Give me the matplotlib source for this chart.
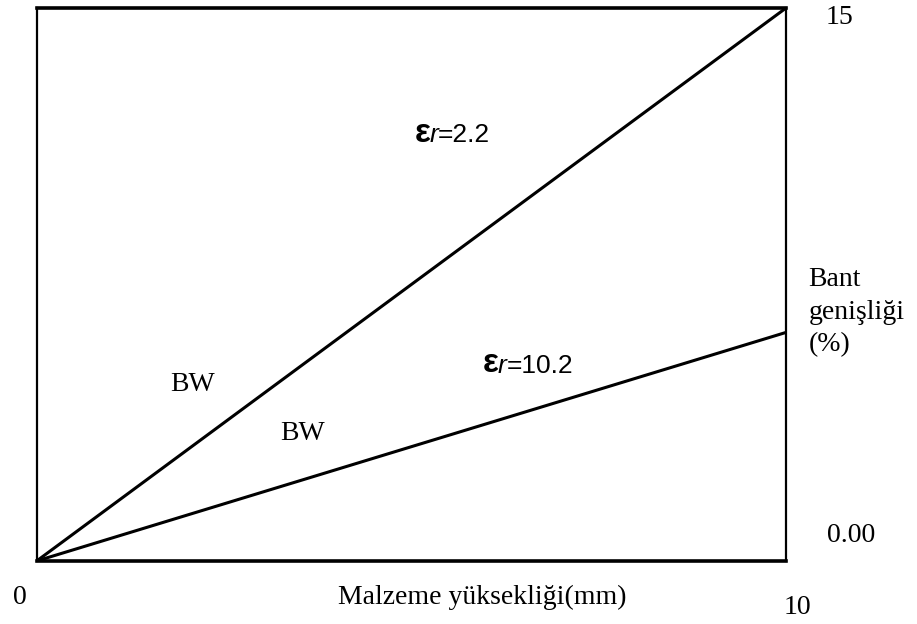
import matplotlib.pyplot as plt

# data
x = [0, 10]
bw_er22 = [0, 15]
bw_er102 = [0, 6.2]

x_labels = ["0", "10"]
y_labels = ["0.00", "15"]

serif = "Liberation Serif"
sans = "Liberation Sans"
fs = 20

fig = plt.figure(figsize=(9.17, 6.24), dpi=100)
ax = fig.add_axes([0.040, 0.101, 0.817, 0.886])

ax.plot(x, bw_er22, color="black", lw=2.2)
ax.plot(x, bw_er102, color="black", lw=2.2)

ax.set_xlim(0, 10)
ax.set_ylim(0, 15)
ax.set_xticks([])
ax.set_yticks([])
for side in ["left", "right"]:
    ax.spines[side].set_linewidth(1.6)
for side in ["top", "bottom"]:
    ax.spines[side].set_linewidth(2.6)

# labels sit outside the axes like in the original
ax.text(-0.23, -1.0, x_labels[0], fontsize=fs, family=serif, ha="center", va="center")
ax.text(10.16, -1.25, x_labels[1], fontsize=fs, family=serif, ha="center", va="center")
ax.text(10.87, 0.68, y_labels[0], fontsize=fs, family=serif, ha="center", va="center")
ax.text(10.72, 14.75, y_labels[1], fontsize=fs, family=serif, ha="center", va="center")
ax.text(5.95, -1.0, "Malzeme yüksekliği(mm)", fontsize=fs, family=serif,
        ha="center", va="center")
ax.text(10.3, 6.75, "Bant\ngenişliği\n(%)", fontsize=fs, family=serif,
        ha="left", va="center", linespacing=1.4)

# epsilon_r labels
ax.text(5.05, 11.6, "ε", fontsize=24, family=sans, fontweight="bold",
        ha="left", va="center")
ax.text(5.25, 11.55, "r", fontsize=19, family=sans, style="italic", ha="left", va="center")
ax.text(5.35, 11.55, "=2.2", fontsize=19, family=sans, ha="left", va="center")

ax.text(5.95, 5.35, "ε", fontsize=24, family=sans, fontweight="bold",
        ha="left", va="center")
ax.text(6.15, 5.3, "r", fontsize=19, family=sans, style="italic", ha="left", va="center")
ax.text(6.27, 5.3, "=10.2", fontsize=19, family=sans, ha="left", va="center")

ax.text(2.08, 4.8, "BW", fontsize=fs, family=serif, ha="center", va="center")
ax.text(3.55, 3.47, "BW", fontsize=fs, family=serif, ha="center", va="center")

fig.savefig("out.png", dpi=100)
